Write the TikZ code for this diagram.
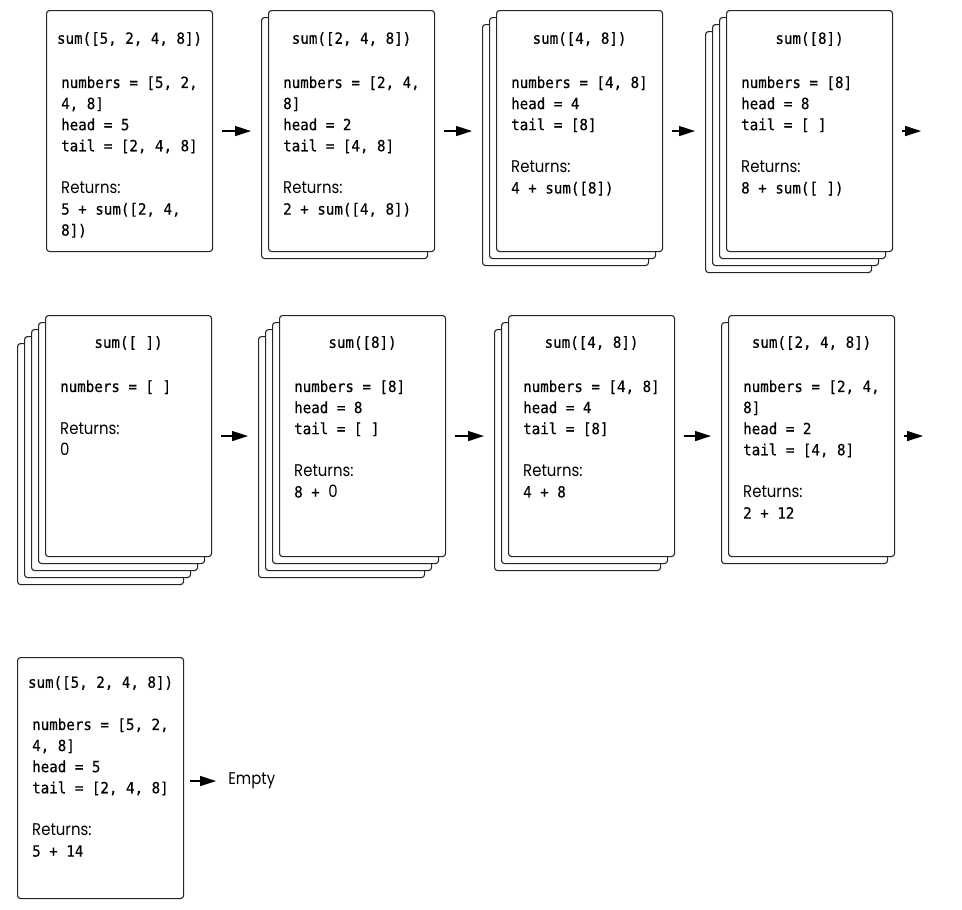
\documentclass[tikz,border=0pt]{standalone}
\usepackage{fontspec}
\setmonofont{DejaVu Sans Mono}[FakeStretch=0.92, FakeBold=0.4]
\setsansfont{Poppins}[Scale=1.1, FakeStretch=0.88]
\usetikzlibrary{arrows.meta}
\usetikzlibrary{positioning}

\newcommand{\ret}{{\sffamily Returns:}}

\begin{document}
\begin{tikzpicture}[x=1pt, y=-1pt,
  card/.style={draw=black!85, line width=1.1pt, rounded corners=3pt, fill=white,
    minimum width=166pt, minimum height=241pt, inner sep=0pt, anchor=north west},
  title/.style={font=\ttfamily\fontsize{15.4}{21.1}\selectfont, text=black, inner sep=0pt},
  body/.style={font=\ttfamily\fontsize{15.4}{21.1}\selectfont, text=black,
    align=left, anchor=north west, inner sep=0pt},
  flow/.style={-{Triangle[length=16pt,width=10pt]}, line width=1.3pt, black,
    shorten <=9pt, shorten >=10pt}]
  \useasboundingbox (0,0) rectangle (962,910);

  % row 1
  \node[card] (c1) at (46,10) {};
  \node[title] (t1) at ([yshift=-29pt]c1.north) {sum([5, 2, 4, 8])};
  \node[body] (b1) at ([xshift=15pt, yshift=-63pt]c1.north west)
    {\strut numbers = [5, 2,\\4, 8]\\head = 5\\tail = [2, 4, 8]\\[21.1pt]\ret\\5 + sum([2, 4,\\8])};

  \foreach \k in {1} \node[card] (c2-\k) at ({268-7*\k},{10+7*\k}) {};
  \node[card] (c2) at (268,10) {};
  \node[title] (t2) at ([yshift=-29pt]c2.north) {sum([2, 4, 8])};
  \node[body] (b2) at ([xshift=15pt, yshift=-63pt]c2.north west)
    {\strut numbers = [2, 4,\\8]\\head = 2\\tail = [4, 8]\\[21.1pt]\ret\\2 + sum([4, 8])};

  \foreach \k in {2,1} \node[card] (c3-\k) at ({496-7*\k},{10+7*\k}) {};
  \node[card] (c3) at (496,10) {};
  \node[title] (t3) at ([yshift=-29pt]c3.north) {sum([4, 8])};
  \node[body] (b3) at ([xshift=15pt, yshift=-63pt]c3.north west)
    {\strut numbers = [4, 8]\\head = 4\\tail = [8]\\[21.1pt]\ret\\4 + sum([8])};

  \foreach \k in {3,2,1} \node[card] (c4-\k) at ({726-7*\k},{10+7*\k}) {};
  \node[card] (c4) at (726,10) {};
  \node[title] (t4) at ([yshift=-29pt]c4.north) {sum([8])};
  \node[body] (b4) at ([xshift=15pt, yshift=-63pt]c4.north west)
    {\strut numbers = [8]\\head = 8\\tail = [ ]\\[21.1pt]\ret\\8 + sum([ ])};

  \coordinate (e1) at ([xshift=38pt]c4.east);
  \draw[flow] (c1.east) -- (c1.east -| c2-1.west);
  \draw[flow] (c2.east) -- (c2.east -| c3-2.west);
  \draw[flow] (c3.east) -- (c3.east -| c4-3.west);
  \draw[flow] (c4.east) -- (e1);

  % row 2
  \foreach \k in {4,3,2,1} \node[card] (c5-\k) at ({45-7*\k},{315+7*\k}) {};
  \node[card] (c5) at (45,315) {};
  \node[title] (t5) at ([yshift=-28pt]c5.north) {sum([ ])};
  \node[body] (b5) at ([xshift=15pt, yshift=-62pt]c5.north west)
    {\strut numbers = [ ]\\[21.1pt]\ret\\{\sffamily 0}};

  \foreach \k in {3,2,1} \node[card] (c6-\k) at ({279-7*\k},{315+7*\k}) {};
  \node[card] (c6) at (279,315) {};
  \node[title] (t6) at ([yshift=-28pt]c6.north) {sum([8])};
  \node[body] (b6) at ([xshift=15pt, yshift=-62pt]c6.north west)
    {\strut numbers = [8]\\head = 8\\tail = [ ]\\[21.1pt]\ret\\8 + {\sffamily 0}};

  \foreach \k in {2,1} \node[card] (c7-\k) at ({508-7*\k},{315+7*\k}) {};
  \node[card] (c7) at (508,315) {};
  \node[title] (t7) at ([yshift=-28pt]c7.north) {sum([4, 8])};
  \node[body] (b7) at ([xshift=15pt, yshift=-62pt]c7.north west)
    {\strut numbers = [4, 8]\\head = 4\\tail = [8]\\[21.1pt]\ret\\4 + 8};

  \foreach \k in {1} \node[card] (c8-\k) at ({728-7*\k},{315+7*\k}) {};
  \node[card] (c8) at (728,315) {};
  \node[title] (t8) at ([yshift=-28pt]c8.north) {sum([2, 4, 8])};
  \node[body] (b8) at ([xshift=15pt, yshift=-62pt]c8.north west)
    {\strut numbers = [2, 4,\\8]\\head = 2\\tail = [4, 8]\\[21.1pt]\ret\\2 + 12};

  \coordinate (e2) at ([xshift=38pt]c8.east);
  \draw[flow] (c5.east) -- (c5.east -| c6-3.west);
  \draw[flow] (c6.east) -- (c6.east -| c7-2.west);
  \draw[flow] (c7.east) -- (c7.east -| c8-1.west);
  \draw[flow] (c8.east) -- (e2);

  % row 3
  \node[card] (c9) at (17,657) {};
  \node[title] (t9) at ([yshift=-26pt]c9.north) {sum([5, 2, 4, 8])};
  \node[body] (b9) at ([xshift=15pt, yshift=-58pt]c9.north west)
    {\strut numbers = [5, 2,\\4, 8]\\head = 5\\tail = [2, 4, 8]\\[21.1pt]\ret\\5 + 14};

  \node[font=\sffamily\fontsize{15.4}{21.1}\selectfont, text=black, anchor=west, inner sep=0pt]
    (empty) at ([xshift=44pt, yshift=-3pt]c9.east) {Empty};
  \draw[flow, shorten <=6pt, shorten >=12pt] ([yshift=-3pt]c9.east) -- (empty.west);
\end{tikzpicture}
\end{document}
